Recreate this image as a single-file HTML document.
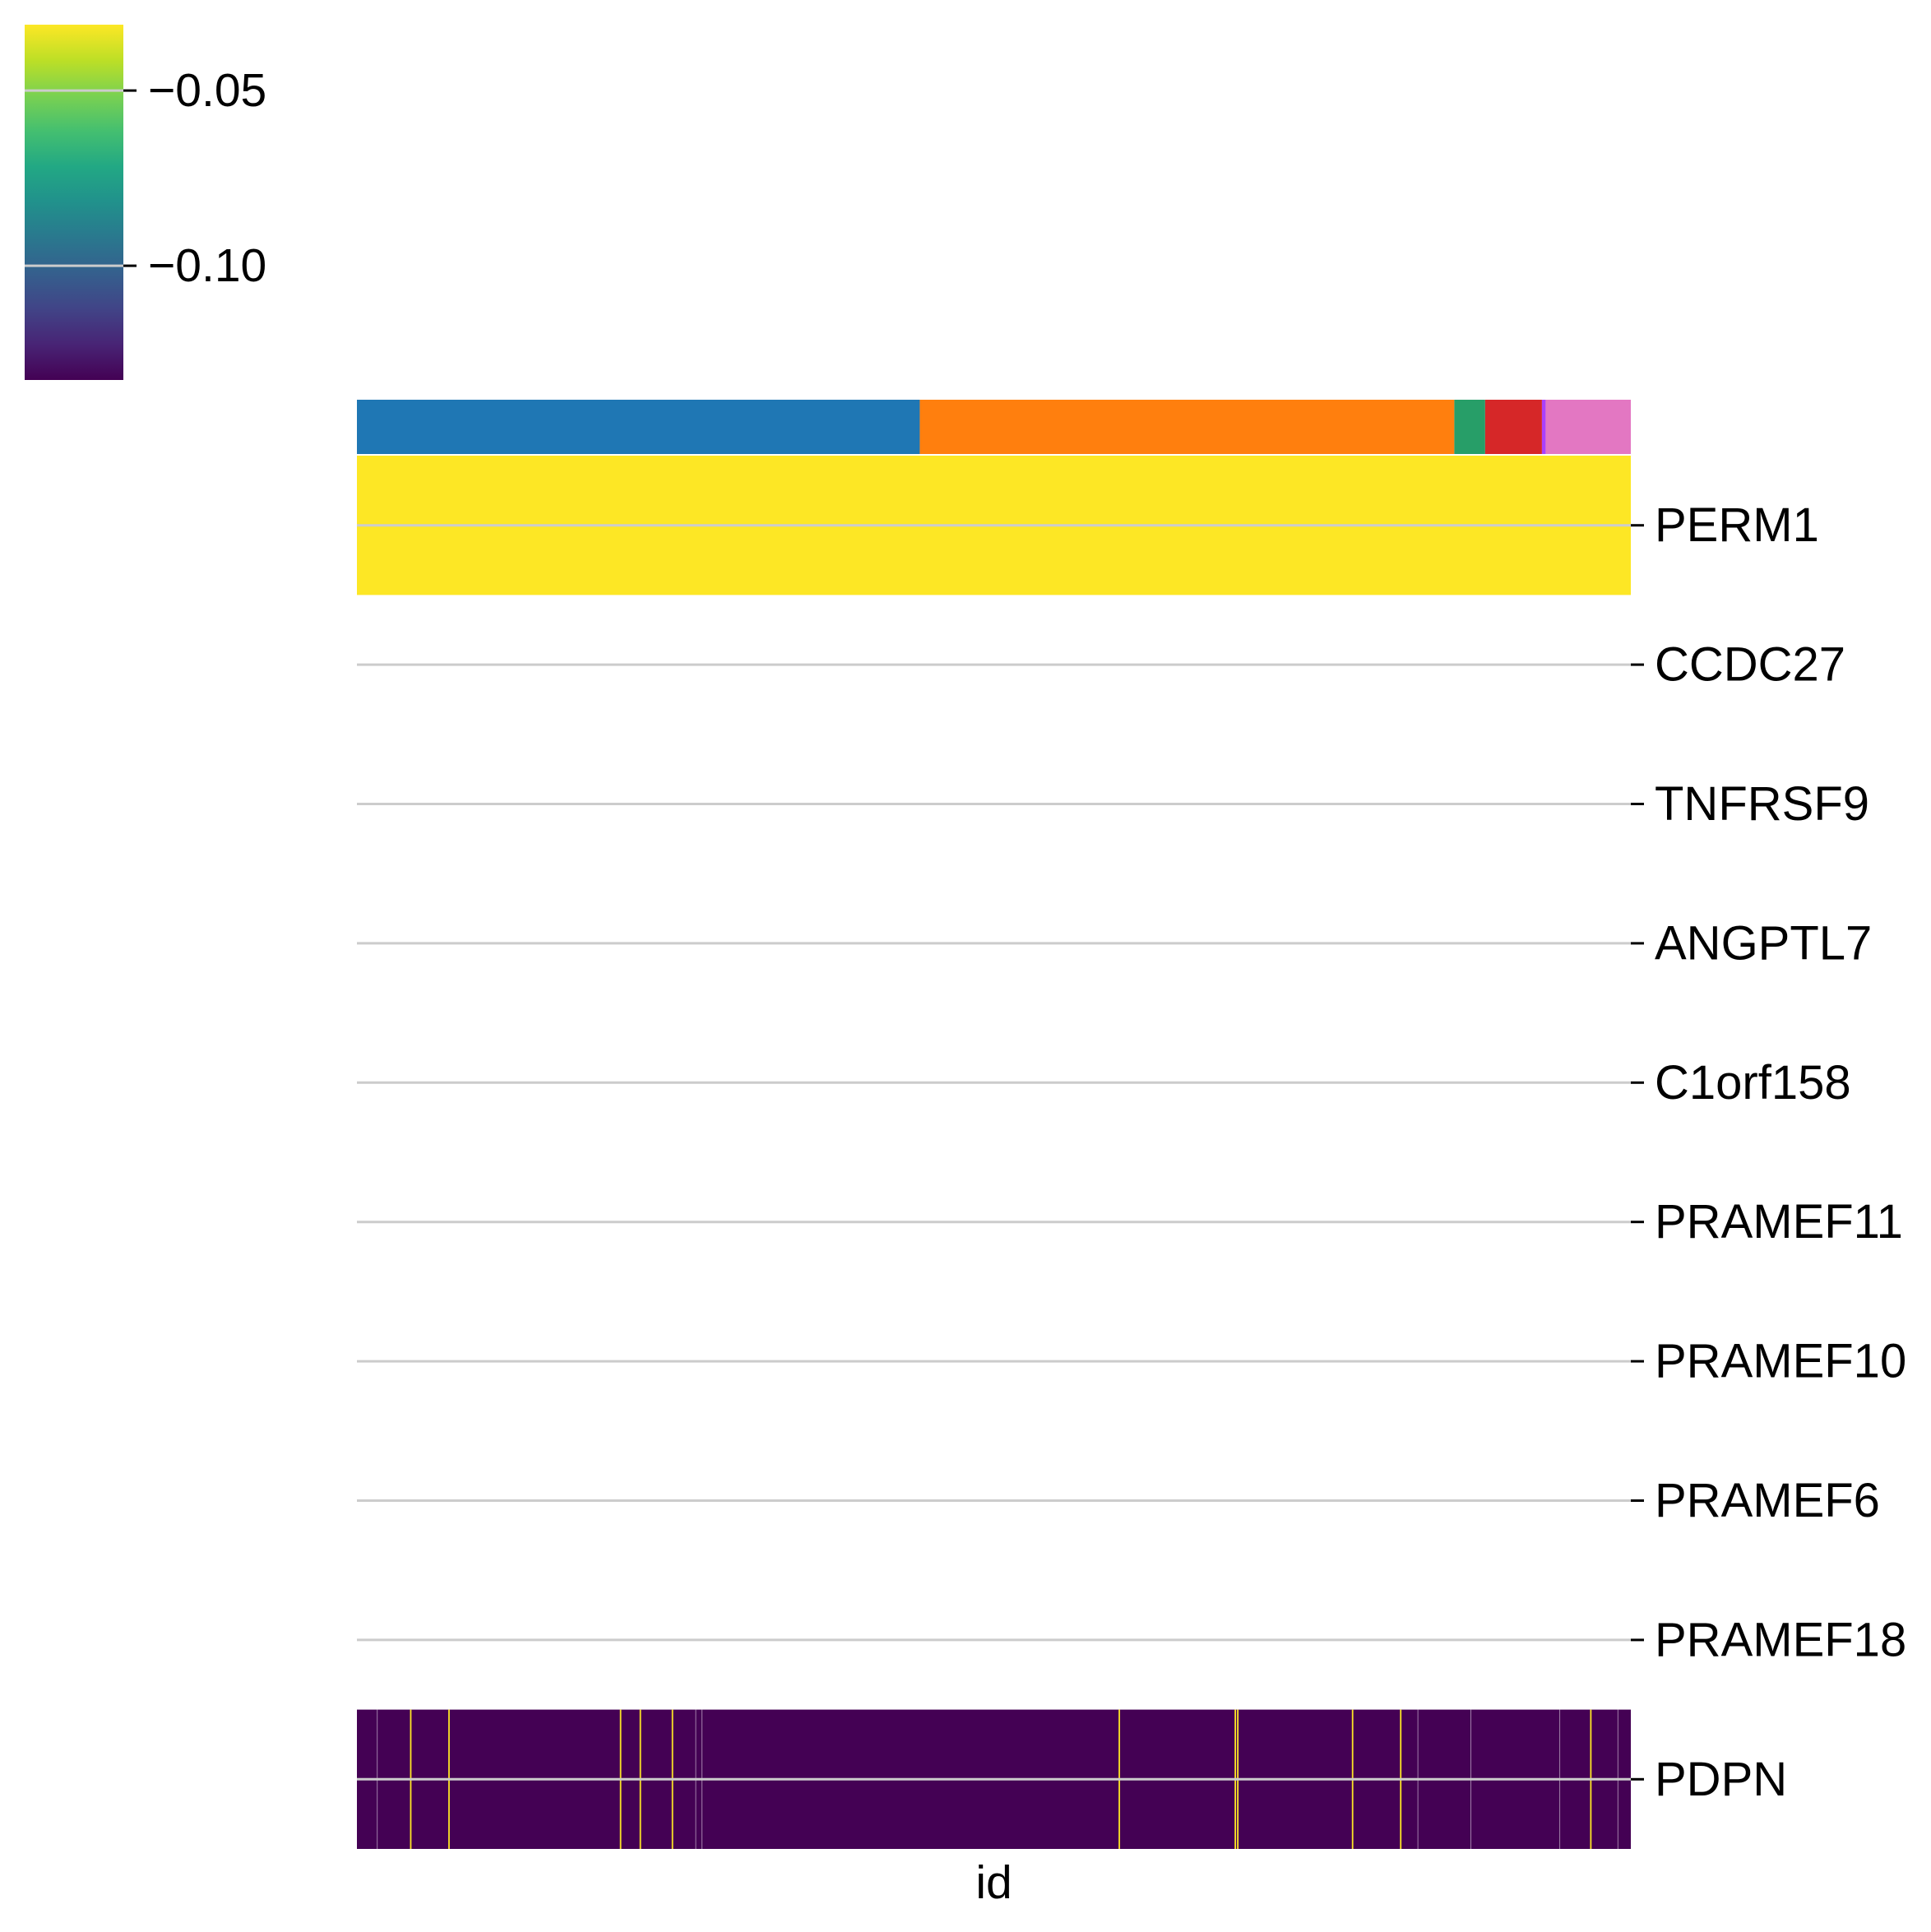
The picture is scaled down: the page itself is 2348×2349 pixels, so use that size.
<!DOCTYPE html>
<html><head><meta charset="utf-8"><style>
html,body{margin:0;padding:0;background:#fff;}
svg{display:block;font-family:"Liberation Sans",Arial,sans-serif;}
</style></head><body>
<svg id="chart" width="2348" height="2349" viewBox="0 0 2348 2349" xmlns="http://www.w3.org/2000/svg">
<defs>
<linearGradient id="viridis" x1="0" y1="1" x2="0" y2="0">
<stop offset="0" stop-color="#440154"/><stop offset="0.1" stop-color="#482475"/><stop offset="0.2" stop-color="#414487"/><stop offset="0.3" stop-color="#355f8d"/><stop offset="0.4" stop-color="#2a788e"/><stop offset="0.5" stop-color="#21918c"/><stop offset="0.6" stop-color="#22a884"/><stop offset="0.7" stop-color="#44bf70"/><stop offset="0.8" stop-color="#7ad151"/><stop offset="0.9" stop-color="#bddf26"/><stop offset="1" stop-color="#fde725"/>
</linearGradient>
</defs>
<g id="colorbar"></g>
<g id="catstrip"></g>
<g id="heat"></g>
<g id="axes"></g>
</svg>
<script>
const genes = ["PERM1","CCDC27","TNFRSF9","ANGPTL7","C1orf158","PRAMEF11","PRAMEF10","PRAMEF6","PRAMEF18","PDPN"];
const nCols = 1032;
const groupSizes = [456, 433, 25, 46, 3, 69];
const groupColors = ["#1f77b4","#ff7f0e","#279e68","#d62728","#aa40fc","#e377c2"];
const cbTicks = [-0.05, -0.10];
const cbTickLabels = ["\u22120.05", "\u22120.10"];
const vmin = -0.1326, vmax = -0.0312;
const perm1Value = -0.0312;
const pdpnBase = -0.1326;
const pdpnHighIdx = [43, 74, 213, 229, 255, 617, 711, 713, 806, 845, 999];
const pdpnHighVal = [-0.0312,-0.0312,-0.0312,-0.0312,-0.0312,-0.0312,-0.0312,-0.0312,-0.0312,-0.0312,-0.0312];
const pdpnNanIdx = [16, 274, 279, 859, 902, 974, 1021];

const NS = "http://www.w3.org/2000/svg";
const HX0 = 434, HX1 = 1983, HY0 = 554, HY1 = 2248;
const CBX0 = 30, CBX1 = 150, CBY0 = 30, CBY1 = 462;
const rowH = (HY1 - HY0) / genes.length;
const colW = (HX1 - HX0) / nCols;
const xOf = i => HX0 + i * colW;
const yOf = r => HY0 + r * rowH;
const cbY = v => CBY1 - (v - vmin) / (vmax - vmin) * (CBY1 - CBY0);
const vir = ["#440154","#482475","#414487","#355f8d","#2a788e","#21918c","#22a884","#44bf70","#7ad151","#bddf26","#fde725"];
function color(v){
  let t = Math.max(0, Math.min(1, (v - vmin) / (vmax - vmin)));
  const k = Math.min(9, Math.floor(t * 10)), f = t * 10 - k;
  const a = vir[k], b = vir[k + 1];
  const c = j => Math.round(parseInt(a.substr(j,2),16)*(1-f) + parseInt(b.substr(j,2),16)*f);
  return `rgb(${c(1)},${c(3)},${c(5)})`;
}
function mk(tag, attrs, parent){
  const e = document.createElementNS(NS, tag);
  for (const k in attrs) e.setAttribute(k, attrs[k]);
  parent.appendChild(e); return e;
}
// colorbar
const cb = document.getElementById('colorbar');
let cbr = mk('rect', {x:CBX0, y:CBY0, width:CBX1-CBX0, height:CBY1-CBY0, fill:'url(#viridis)'}, cb);


cbTicks.forEach((t, i) => {
  const y = cbY(t);
  let g = mk('line', {x1:CBX0, x2:CBX1, y1:y, y2:y, stroke:'#cccccc', 'stroke-width':3}, cb);
  
  
  let tk = mk('line', {x1:CBX1, x2:CBX1+16, y1:y, y2:y, stroke:'#000', 'stroke-width':3}, cb);
  
  
  let tx = mk('text', {x:CBX1+30, y:y, 'font-size':57, 'dominant-baseline':'central', fill:'#000'}, cb);
  tx.textContent = cbTickLabels[i];
  
  
});
// category strip
const cs = document.getElementById('catstrip');
let acc = 0;
groupSizes.forEach((n, i) => {
  let r = mk('rect', {x:xOf(acc), y:486, width:n*colW, height:66, fill:groupColors[i]}, cs);
  
  
  acc += n;
});
// heatmap
const hm = document.getElementById('heat');
let p = mk('rect', {x:HX0, y:yOf(0), width:HX1-HX0, height:rowH, fill:color(perm1Value)}, hm);


const pr = genes.length - 1;
let pd = mk('rect', {x:HX0, y:yOf(pr), width:HX1-HX0, height:rowH, fill:color(pdpnBase)}, hm);


pdpnHighIdx.forEach((ix, i) => {
  let c = mk('rect', {x:xOf(ix), y:yOf(pr), width:colW*1.2, height:rowH, fill:color(pdpnHighVal[i])}, hm);
  
  
});
pdpnNanIdx.forEach(ix => {
  let c = mk('rect', {x:xOf(ix)+0.4, y:yOf(pr), width:0.7, height:rowH, fill:'#ffffff', opacity:0.7}, hm);
  
  
});
// axes
const ax = document.getElementById('axes');
genes.forEach((gname, r) => {
  const y = yOf(r) + rowH / 2;
  let g = mk('line', {x1:HX0, x2:HX1, y1:y, y2:y, stroke:'#cccccc', 'stroke-width':3}, ax);
  
  
  let tk = mk('line', {x1:HX1, x2:HX1+16, y1:y, y2:y, stroke:'#000', 'stroke-width':3}, ax);
  
  
  let tx = mk('text', {x:2012, y:y, 'font-size':58, 'dominant-baseline':'central', fill:'#000'}, ax);
  tx.textContent = gname;
  
  
});
let xl = mk('text', {x:(HX0+HX1)/2, y:2308, 'font-size':57, 'text-anchor':'middle', fill:'#000'}, ax);
xl.textContent = 'id';


</script>
</body></html>
